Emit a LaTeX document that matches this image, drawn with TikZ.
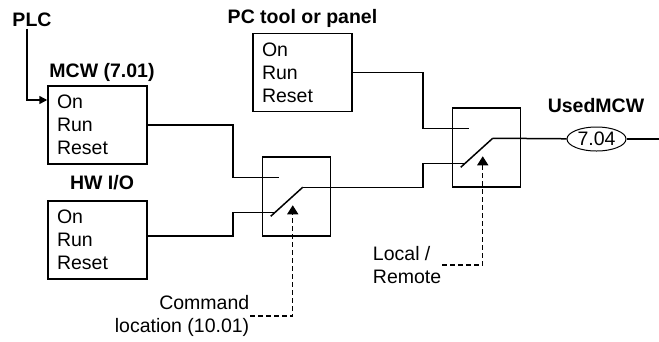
\documentclass[tikz,border=0pt]{standalone}
\usepackage{fontspec}
\setmainfont{Liberation Sans}
\usetikzlibrary{arrows.meta,calc,shapes.geometric}
\newcommand{\diafont}{\fontsize{19.5}{23}\selectfont}

\begin{document}
\begin{tikzpicture}[x=1pt,y=-1pt,line width=1.5pt,
    every node/.style={font=\diafont},
    title/.style={font=\diafont\bfseries,inner sep=0pt},
    cmdbox/.style={draw,align=left,text width=81pt,inner xsep=9pt,minimum height=78pt},
    swbox/.style={draw,minimum width=68pt,minimum height=79pt},
    ctrl/.style={dash pattern=on 5pt off 3pt,line width=1.3pt,-{Triangle[width=11pt,length=9pt]}},
    feed/.style={-{Triangle[width=8pt,length=8pt]}}]
  \useasboundingbox (0,0) rectangle (659,341);
  \node[title] (plc) at (32,20) {PLC};
  \node[title] (mcwt) at (102,72) {MCW (7.01)};
  \node[cmdbox] (mcw) at (97.5,125) {On\\Run\\Reset};
  \node[title] (hwt) at (102,183) {HW I/O};
  \node[cmdbox] (hw) at (97.5,240) {On\\Run\\Reset};
  \node[title] (pct) at (302.5,18) {PC tool or panel};
  \node[cmdbox] (pc) at (302.5,72.5) {On\\Run\\Reset};
  \node[swbox] (s1) at (296.5,196.5) {};
  \node[swbox] (s2) at (486.5,147.5) {};
  \node[draw,ellipse,line width=1pt,minimum width=59pt,minimum height=24pt,inner sep=0pt] (u) at (596.5,139) {7.04};
  \node[title] (ut) at (596,106) {UsedMCW};
  \node[align=right,inner sep=0pt,anchor=east] (cl) at (250,316) {Command\\location (10.01)};
  \node[align=left,inner sep=0pt,anchor=east] (lr) at (442,265) {Local /\\Remote};
  \coordinate (out) at (659,139);
  \foreach \s in {s1,s2}{
    \coordinate (\s a) at ($(\s.north west)+(17,21)$);
    \coordinate (\s b) at ($(\s.north west)+(12,56)$);
    \coordinate (\s p) at ($(\s.north west)+(9,60)$);
    \coordinate (\s q) at ($(\s.north west)+(41,31)$);
    \coordinate (\s c) at ($(\s.north west)+(31,49)$);
    \draw (\s p) -- (\s q);
  }
  \draw[feed] ([xshift=-5pt,yshift=-1pt]plc.south) |- ([yshift=25pt]mcw.west);
  \draw (mcw.east) -| ($(s1a)+(-46,0)$) -- (s1a);
  \draw ([yshift=4pt]hw.east) -| ($(s1b)+(-41,0)$) -- (s1b);
  \draw (pc.east) -| ($(s2a)+(-46,0)$) -- (s2a);
  \draw (s1q) -| ($(s2b)+(-41,0)$) -- (s2b);
  \draw (s2q) -- (u);
  \draw (u) -- (out);
  \draw[ctrl] (cl.east) -| (s1c);
  \draw[ctrl] (lr.east) -| (s2c);
\end{tikzpicture}
\end{document}
